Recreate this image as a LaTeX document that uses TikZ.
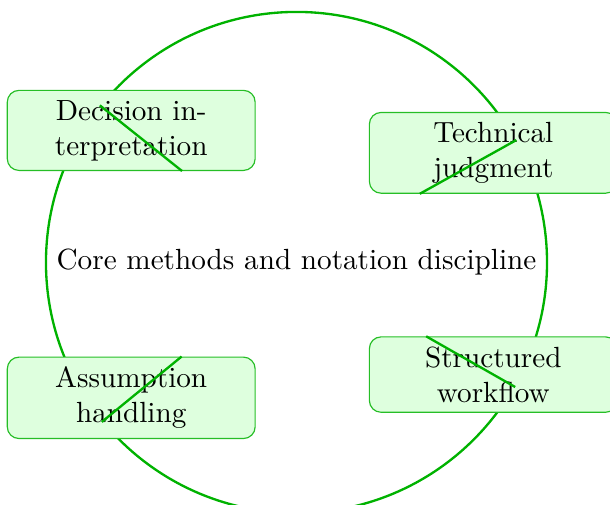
\documentclass[tikz,border=0pt]{standalone}
\definecolor{ringgreen}{RGB}{0,178,0}
\begin{document}
\begin{tikzpicture}
\useasboundingbox (-3.57,-2.92) rectangle (3.775,3.16);
\tikzset{core/.style={circle, draw=ringgreen, thick}}
\node[core] (core) at (0.0, 0.0) {Core methods and notation discipline};
\tikzset{every node/.style={rectangle, rounded corners, draw=ringgreen!85!white, fill=green!13, text width=2.75cm, align=center}}
\node (dec) at (-1.99, 1.59) {Decision interpretation};
\node (tech) at (2.37, 1.32) {Technical judgment};
\node (ass) at (-1.99, -1.63) {Assumption handling};
\node (work) at (2.37, -1.35) {Structured workflow};
\tikzset{every node/.style={}};
\tikzset{mystyle/.style={-,thick,ringgreen}};
\path (core) edge [mystyle] (dec);
\path (core) edge [mystyle] (tech);
\path (core) edge [mystyle] (ass);
\path (core) edge [mystyle] (work);
\end{tikzpicture}
\end{document}
